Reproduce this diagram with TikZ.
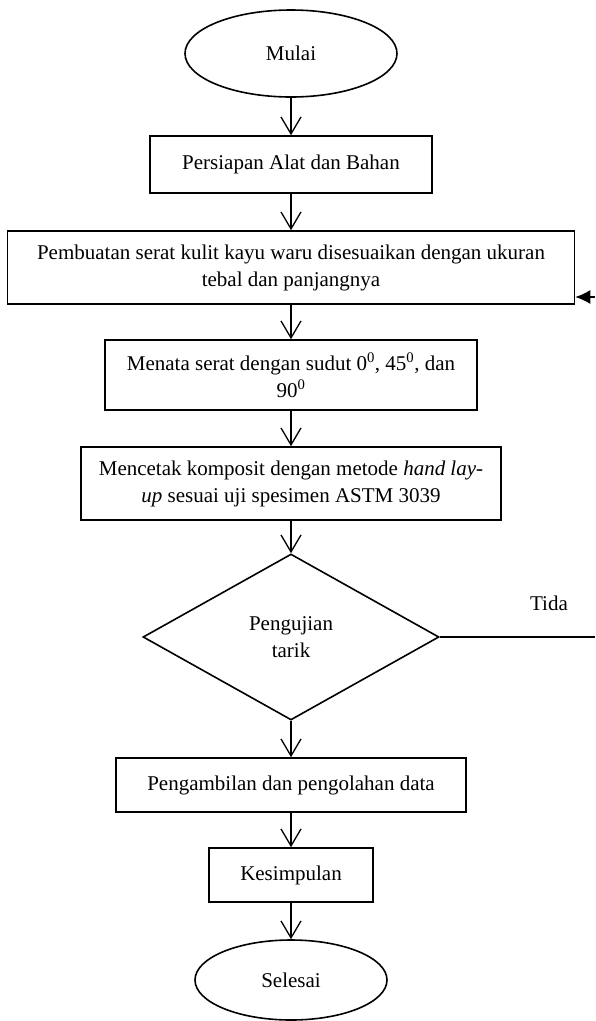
\documentclass[tikz,border=0pt]{standalone}
\usepackage{fontspec}
\setmainfont{Liberation Serif}
\usetikzlibrary{shapes.geometric,arrows.meta}

\begin{document}
\begin{tikzpicture}[x=1pt,y=-1pt,
  font=\fontsize{21}{27}\selectfont,
  main/.style = {draw, line width=1.6pt, inner sep=0pt, align=center},
  kotak/.style = {main, rectangle},
  bulat/.style = {main, ellipse},
  panah/.style = {line width=1.3pt, -{Straight Barb[length=17pt,width=20pt]}}]
\useasboundingbox (0,0) rectangle (595,1021);

\node[bulat, minimum width=212pt, minimum height=87pt] (mulai) at (291,53.5) {Mulai};
\node[kotak, minimum width=282pt, minimum height=57pt] (alat) [below of=mulai, node distance=111pt] {Persiapan Alat dan Bahan};
\node[kotak, minimum width=567pt, minimum height=73pt] (buat) [below of=alat, node distance=103pt] {Pembuatan serat kulit kayu waru disesuaikan dengan ukuran\\tebal dan panjangnya};
\node[kotak, minimum width=372pt, minimum height=70pt] (tata) [below of=buat, node distance=107.5pt] {Menata serat dengan sudut 0\textsuperscript{0}, 45\textsuperscript{0}, dan\\90\textsuperscript{0}};
\node[kotak, minimum width=420pt, minimum height=73pt] (cetak) [below of=tata, node distance=108.5pt] {Mencetak komposit dengan metode \textit{hand lay-}\\\textit{up} sesuai uji spesimen ASTM 3039};
\node[main, diamond, minimum width=296pt, minimum height=166pt] (uji) [below of=cetak, node distance=153.5pt] {Pengujian\\tarik};
\node[kotak, minimum width=350pt, minimum height=54pt] (data) [below of=uji, node distance=148pt] {Pengambilan dan pengolahan data};
\node[kotak, minimum width=164pt, minimum height=54pt] (simpul) [below of=data, node distance=90pt] {Kesimpulan};
\node[bulat, minimum width=192pt, minimum height=80pt] (selesai) [below of=simpul, node distance=105pt] {Selesai};

\node (tida) at (549,603) {Tida};
\coordinate (tepi) at (595,637);
\coordinate (balik) at (595,297);

% alur utama
\draw[panah] (mulai) -- (alat);
\draw[panah] (alat) -- (buat);
\draw[panah] (buat) -- (tata);
\draw[panah] (tata) -- (cetak);
\draw[panah] (cetak) -- (uji);
\draw[panah] (uji) -- (data);
\draw[panah] (data) -- (simpul);
\draw[panah] (simpul) -- (selesai);

% tidak
\draw[line width=1.3pt] (uji.east) -- (tepi);
\draw[line width=1.3pt, -{Latex[length=15pt,width=14pt]}] (balik) -- (balik -| buat.east);

\end{tikzpicture}
\end{document}
